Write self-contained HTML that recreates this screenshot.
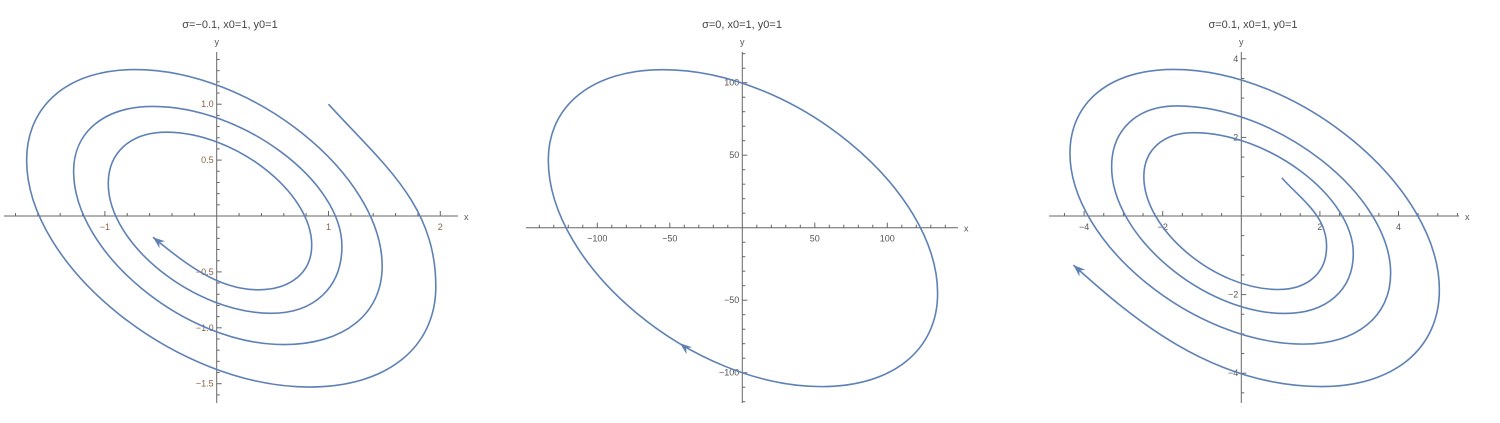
<!DOCTYPE html>
<html><head><meta charset="utf-8"><style>
body{margin:0;background:#fff;width:1500px;height:423px;overflow:hidden}
svg{display:block}
text{font-family:"Liberation Sans",sans-serif}
</style></head><body>
<svg id="c" width="1500" height="423"></svg>
<script>
// Panel 1 (sigma=-0.1): start point, then extremal points R,B,L,T,... and end point
const start1=[1,1];
const ext1X=[1.96,0.83,-1.70,-0.73,1.48,0.60,-1.28,-0.57,1.12,0.49,-0.97,-0.45,0.85,0.37];
const ext1Y=[-0.63,-1.53,0.50,1.31,-0.45,-1.15,0.40,0.98,-0.27,-0.87,0.29,0.75,-0.26,-0.66];
const end1=[-0.57,-0.19];
// Panel 2 (sigma=0): closed ellipse extremes T,R,B,L
const ell2X=[-54.5,134.7,54.7,-133.8];
const ell2Y=[109,-45.3,-109.6,46.7];
const arrow2=[-43,-79.7];
// Panel 3 (sigma=0.1): outward spiral
const start3=[1.03,0.97];
const ext3X=[2.17,0.94,-2.48,-1.22,2.85,1.11,-3.30,-1.64,3.80,1.58,-4.36,-1.73,5.04,2.05];
const ext3Y=[-0.78,-1.87,1.0,2.12,-0.95,-2.48,1.25,2.80,-1.46,-3.26,1.60,3.73,-1.88,-4.34];
const end3=[-4.27,-1.25];
const titles=["σ=−0.1, x0=1, y0=1","σ=0, x0=1, y0=1","σ=0.1, x0=1, y0=1"];
const xTicks1=[-1,1,2], yTicks1=[-1.5,-1.0,-0.5,0.5,1.0];
const xTicks2=[-100,-50,50,100], yTicks2=[-100,-50,50,100];
const xTicks3=[-4,-2,2,4], yTicks3=[-4,-2,2,4];

const svg=document.getElementById('c');
const NS='http://www.w3.org/2000/svg';
function mk(t,a,p){const e=document.createElementNS(NS,t);for(const k in a)e.setAttribute(k,a[k]);(p||svg).appendChild(e);return e;}
function fmt(v,d){return v.toFixed(d).replace('-','−');}
const FL=0.47, FS=0.61;
function arc(P,Q){
  const vert=(P[2]==='R'||P[2]==='L')?P:Q, hor=(vert===P)?Q:P;
  const C=[vert[0],hor[1]];
  const long=(P[2]==='T'&&Q[2]==='R')||(P[2]==='B'&&Q[2]==='L');
  const f=long?FL:FS;
  return ' C'+(P[0]+f*(C[0]-P[0]))+','+(P[1]+f*(C[1]-P[1]))+' '+(Q[0]+f*(C[0]-Q[0]))+','+(Q[1]+f*(C[1]-Q[1]))+' '+Q[0]+','+Q[1];
}
function unit(v){const L=Math.hypot(v[0],v[1]);return [v[0]/L,v[1]/L];}
function arrowAt(g,tip,dir){
  const [dx,dy]=unit(dir);
  const bx=tip[0]-dx*12,by=tip[1]-dy*12;
  const a=mk('polygon',{points:[tip[0]+','+tip[1],(bx-dy*4.5)+','+(by+dx*4.5),(tip[0]-dx*8)+','+(tip[1]-dy*8),(bx+dy*4.5)+','+(by-dx*4.5)].join(' '),fill:'#5e81b5'},g);
  
  
}
function panel(cfg){
  const g=mk('g',{});
  
  
  const sx=v=>cfg.ox+v*cfg.k, sy=v=>cfg.oy-v*cfg.k;
  const t=mk('text',{x:cfg.tx,y:28,'text-anchor':'middle','font-size':11,fill:'#444'},g);t.textContent=cfg.title;
  
  
  const ax=mk('line',{x1:cfg.xa[0],x2:cfg.xa[1],y1:cfg.oy,y2:cfg.oy,stroke:'#666','stroke-width':1},g);
  
  
  const ay=mk('line',{x1:cfg.ox,x2:cfg.ox,y1:cfg.ya[0],y2:cfg.ya[1],stroke:'#666','stroke-width':1},g);
  
  
  const lx=mk('text',{x:cfg.xa[1]+6,y:cfg.oy+4,'font-size':9,fill:'#555'},g);lx.textContent='x';
  
  
  const ly=mk('text',{x:cfg.ox,y:cfg.ya[0]-7,'text-anchor':'middle','font-size':9,fill:'#555'},g);ly.textContent='y';
  
  
  for(let v=Math.ceil(((cfg.xa[0]-cfg.ox)/cfg.k)/cfg.mx)*cfg.mx;sx(v)<=cfg.xa[1];v+=cfg.mx){
    if(Math.abs(v)<1e-9)continue;const X=sx(v);
    const major=Math.abs(v/cfg.Mx-Math.round(v/cfg.Mx))<1e-6;
    mk('line',{x1:X,x2:X,y1:cfg.oy,y2:cfg.oy-(major?5:3),stroke:'#666'},g);}
  for(let v=Math.ceil(((cfg.oy-cfg.ya[1])/cfg.k)/cfg.my)*cfg.my;sy(v)>=cfg.ya[0];v+=cfg.my){
    if(Math.abs(v)<1e-9)continue;const Y=sy(v);
    const major=Math.abs(v/cfg.My-Math.round(v/cfg.My))<1e-6;
    mk('line',{x1:cfg.ox,x2:cfg.ox+(major?5:3),y1:Y,y2:Y,stroke:'#666'},g);}
  cfg.xt.forEach(v=>{const e=mk('text',{x:sx(v),y:cfg.oy+14,'text-anchor':'middle','font-size':9,fill:cfg.lc},g);e.textContent=fmt(v,cfg.d);
    
    });
  cfg.yt.forEach(v=>{const e=mk('text',{x:cfg.ox-3,y:sy(v)+3,'text-anchor':'end','font-size':9,fill:cfg.lc},g);e.textContent=fmt(v,cfg.dy);
    
    });
  const types=['R','B','L','T'];
  const E=cfg.X.map((v,i)=>[sx(v),sy(cfg.Y[i]),types[(i+cfg.t0)%4]]);
  let d;
  if(cfg.closed){
    d='M'+E[0][0]+','+E[0][1];
    for(let i=0;i<E.length;i++)d+=arc(E[i],E[(i+1)%E.length]);
    d+='Z';
  }else{
    const S=[sx(cfg.start[0]),sy(cfg.start[1])], R=E[0];
    const sd=unit(cfg.sdir), L0=Math.hypot(R[0]-S[0],R[1]-S[1])*0.38;
    d='M'+S[0]+','+S[1]+' C'+(S[0]+sd[0]*L0)+','+(S[1]+sd[1]*L0)+' '+R[0]+','+(R[1]-(R[1]-S[1])*0.45)+' '+R[0]+','+R[1];
    for(let i=0;i<E.length-1;i++)d+=arc(E[i],E[i+1]);
    const B=E[E.length-1], N=[sx(cfg.end[0]),sy(cfg.end[1])];
    const ed=unit(cfg.edir), L1=Math.abs(N[0]-B[0]);
    d+=' C'+(B[0]+(N[0]-B[0])*cfg.bf)+','+B[1]+' '+(N[0]-ed[0]*L1*cfg.ef)+','+(N[1]-ed[1]*L1*cfg.ef)+' '+N[0]+','+N[1];
  }
  const p=mk('path',{d:d,fill:'none',stroke:'#5e81b5','stroke-width':1.6},g);
  
  
  if(cfg.closed)arrowAt(g,[sx(cfg.arrow[0]),sy(cfg.arrow[1])],cfg.edir);
  else arrowAt(g,[sx(cfg.end[0]),sy(cfg.end[1])],cfg.edir);
}
panel({name:'panel-sigma-neg',title:titles[0],tx:230,ox:216.7,oy:216,k:111.8,xa:[4,458],ya:[52,403],mx:0.2,Mx:1,my:0.1,My:0.5,xt:xTicks1,yt:yTicks1,d:0,dy:1,lc:'#8b5e45',
  X:ext1X,Y:ext1Y,t0:0,start:start1,end:end1,sdir:[1,1.1],edir:[-1,-0.8],bf:0.4,ef:0.35,closed:false});
panel({name:'panel-sigma-zero',title:titles[1],tx:742,ox:742.3,oy:227.7,k:1.45,xa:[526,958],ya:[52,403],mx:10,Mx:50,my:10,My:50,xt:xTicks2,yt:yTicks2,d:0,dy:0,lc:'#555',
  X:ell2X,Y:ell2Y,t0:3,closed:true,arrow:arrow2,edir:[-1,-0.8]});
panel({name:'panel-sigma-pos',title:titles[2],tx:1253,ox:1241.3,oy:216,k:39.3,xa:[1049,1459],ya:[52,403],mx:0.5,Mx:2,my:0.5,My:2,xt:xTicks3,yt:yTicks3,d:0,dy:0,lc:'#555',
  X:ext3X,Y:ext3Y,t0:0,start:start3,end:end3,sdir:[1,1.1],edir:[-1,-0.9],bf:0.45,ef:0.3,closed:false});
</script>
</body></html>
